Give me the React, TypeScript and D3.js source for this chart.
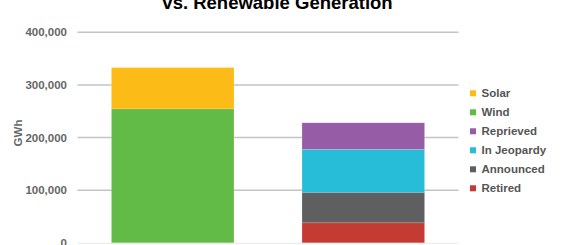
import React from "react";
import * as d3 from "d3";

const categories = ["Renewable Generation", "Coal Generation"];
const seriesNames = ["Retired", "Announced", "In Jeopardy", "Reprieved", "Wind", "Solar"];
const retired = [0, 38000];
const announced = [0, 58000];
const inJeopardy = [0, 81500];
const reprieved = [0, 50500];
const wind = [254500, 0];
const solar = [78500, 0];
const yTicks = [0, 100000, 200000, 300000, 400000];
const legendOrder = ["Solar", "Wind", "Reprieved", "In Jeopardy", "Announced", "Retired"];
const colors: Record<string, string> = {
  Solar: "#FDBB17",
  Wind: "#63BB47",
  Reprieved: "#975CA6",
  "In Jeopardy": "#27BCD7",
  Announced: "#5E5F61",
  Retired: "#C33B33",
};

export default function App() {
  const W = 568, H = 245;
  const left = 77.5, right = 458.5, top = 32.3, bottom = 242.8;
  const x = d3.scaleBand().domain(categories).range([left, right]).paddingInner(0.357).paddingOuter(0.178);
  const y = d3.scaleLinear().domain([0, 400000]).range([bottom, top]);
  const valuesBy: Record<string, number[]> = {
    Retired: retired, Announced: announced, "In Jeopardy": inJeopardy,
    Reprieved: reprieved, Wind: wind, Solar: solar,
  };
  const rows = categories.map((c, i) => {
    const r: any = { cat: c };
    seriesNames.forEach((s) => (r[s] = valuesBy[s][i]));
    return r;
  });
  const stack = d3.stack<any>().keys(seriesNames)(rows);
  const fmt = d3.format(",");
  return (
    <svg width={W} height={H} style={{ position: "absolute", left: 0, top: 0, fontFamily: "Liberation Sans, Arial, sans-serif" }}>
      <text x={277.5} y={9} textAnchor="middle" fontSize={18.5} fontWeight="bold" fill="#000">vs. Renewable Generation</text>
      {yTicks.map((t) => (
        <g key={t}>
          {t > 0 && <line x1={left} x2={right} y1={y(t)} y2={y(t)} stroke="#C4C4C4" strokeWidth={1.5} />}
          <text x={67} y={y(t)} dy="0.36em" textAnchor="end" fontSize={11.5} fontWeight="bold" fill="#666">{fmt(t)}</text>
        </g>
      ))}
      <line x1={left} x2={right} y1={bottom + 0.5} y2={bottom + 0.5} stroke="#E8E8E8" strokeWidth={1} />
      <text transform={`translate(22,133) rotate(-90)`} textAnchor="middle" fontSize={11.5} fontWeight="bold" fill="#666">GWh</text>
      {stack.map((layer) =>
        layer.map((d, i) =>
          d[1] - d[0] > 0 ? (
            <rect key={layer.key + i} x={x(categories[i])} width={x.bandwidth()} y={y(d[1])} height={y(d[0]) - y(d[1])}
              fill={colors[layer.key]} stroke="#fff" strokeOpacity={0.25} strokeWidth={0.6} />
          ) : null
        )
      )}
      {legendOrder.map((s, i) => (
        <g key={s} transform={`translate(470,${93.3 + i * 19})`}>
          <rect x={0} y={-3} width={6} height={6} fill={colors[s]} />
          <text x={11.5} y={0} dy="0.36em" fontSize={11.5} fontWeight="bold" fill="#555">{s}</text>
        </g>
      ))}
    </svg>
  );
}
